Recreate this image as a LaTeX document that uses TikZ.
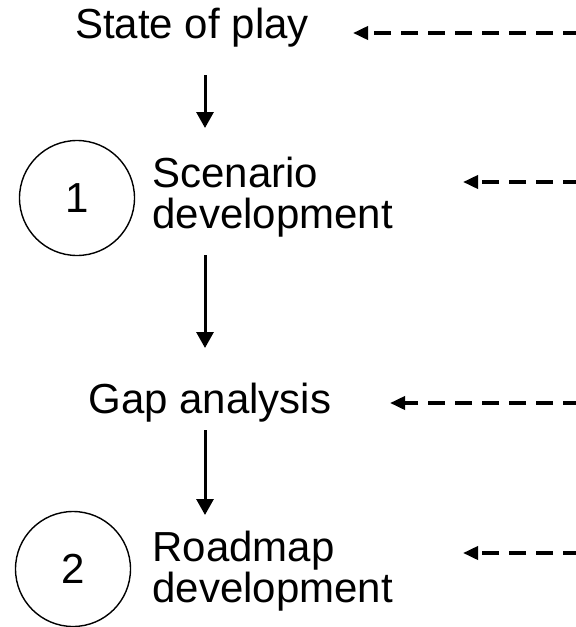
\documentclass[tikz,border=0pt]{standalone}
\usepackage{fontspec}
\setmainfont{Liberation Sans}
\usepackage{tikz}
\usetikzlibrary{arrows.meta,positioning}
\tikzset{
    %Define standard arrow tip
    >={Triangle[length=8pt,width=8.5pt]},
    %Define style for step labels
    steptext/.style={
           inner sep=0pt,
           align=left,
           font=\fontsize{21}{20.5}\selectfont},
    %Define style for numbered circles
    numcirc/.style={
           circle,
           draw=black, line width=0.7pt,
           minimum size=57.5pt,
           inner sep=0pt,
           font=\fontsize{21}{20.5}\selectfont,
           text centered},
    % Define arrow styles
    flow/.style={
           ->,
           line width=1.5pt},
    feed/.style={
           -{Triangle[length=7.5pt,width=6.5pt]},
           line width=1.8pt,
           dash pattern=on 8.5pt off 5pt}
}
\begin{document}
\begin{tikzpicture}[x=0.5pt,y=-0.5pt]
\useasboundingbox (0,0) rectangle (576,627);

 %nodes
\node[steptext, anchor=base](play) at (192,38){State of play};
\node[numcirc](one) at (77,198){1};
\node[steptext, anchor=base west](scen) at (152,228){Scenario\\development};
\node[steptext, anchor=base](gap) at (210,413){Gap analysis};
\node[numcirc](two) at (73,569){2};
\node[steptext, anchor=base west](road) at (152,602){Roadmap\\development};

 %arrow ends
\coordinate (p1) at (205,75);   \coordinate (s1) at (205,128);
\coordinate (p2) at (205,255);  \coordinate (s2) at (205,348);
\coordinate (p3) at (205,430);  \coordinate (s3) at (205,515);
\coordinate (in1) at (580,33);  \coordinate (t1) at (353,33);
\coordinate (in2) at (580,182); \coordinate (t2) at (463,182);
\coordinate (in3) at (580,403); \coordinate (t3) at (390,403);
\coordinate (in4) at (580,553); \coordinate (t4) at (463,553);

\draw[flow] (p1) -- (s1);
\draw[flow] (p2) -- (s2);
\draw[flow] (p3) -- (s3);

\foreach \i in {1,...,4}
    \draw[feed] (in\i) -- (t\i);

\end{tikzpicture}
\end{document}
